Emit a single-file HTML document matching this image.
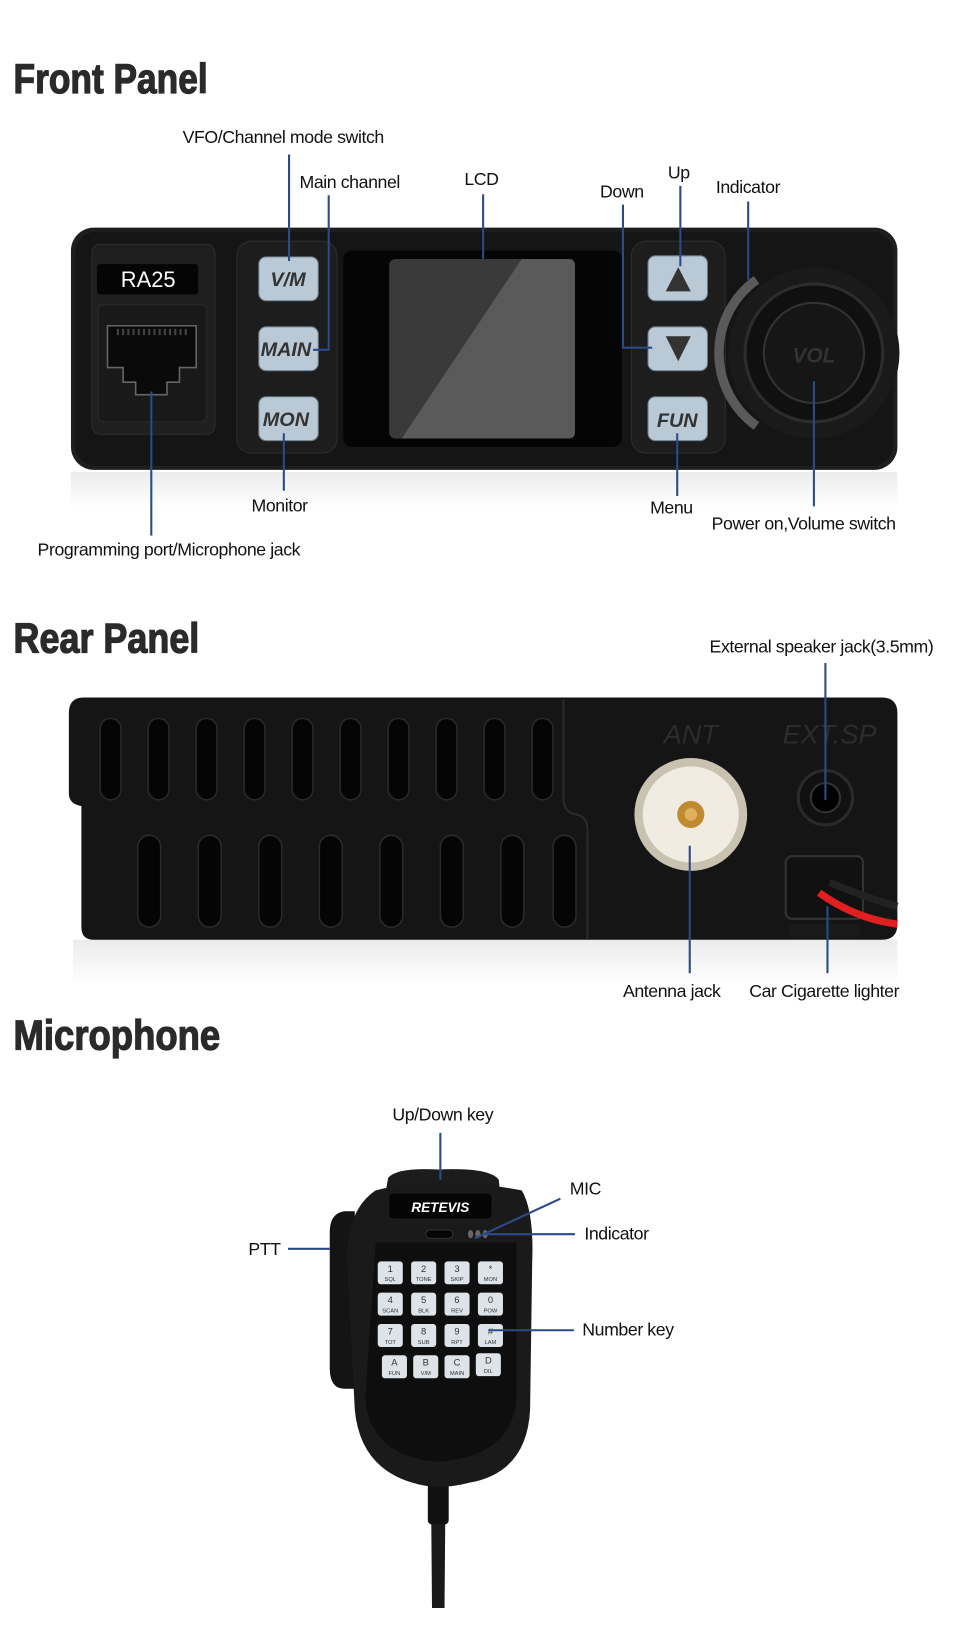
<!DOCTYPE html>
<html><head><meta charset="utf-8"><style>
html,body{margin:0;padding:0;background:#fff;width:960px;height:1632px;overflow:hidden}
svg{display:block}
.t{font-family:"Liberation Sans",sans-serif;font-size:17px;fill:#111;letter-spacing:-0.4px}
.h{font-family:"Liberation Sans Narrow","Liberation Sans",sans-serif;font-weight:bold;font-size:40px;fill:#2a2a2a;stroke:#2a2a2a;stroke-width:1.2}
.l{stroke:#2b4a86;stroke-width:2;fill:none}
.btn{fill:#b9c9d5;stroke:#6e7c86;stroke-width:1}
.bt{font-family:"Liberation Sans",sans-serif;font-weight:bold;font-style:italic;font-size:19px;fill:#333;text-anchor:middle}
.k{fill:#dde3e8}
.kt{font-family:"Liberation Sans",sans-serif;font-size:9px;fill:#333;text-anchor:middle}
.ks{font-family:"Liberation Sans",sans-serif;font-size:5.5px;fill:#333;text-anchor:middle}
</style></head><body>
<svg width="960" height="1632" viewBox="0 0 920 1563" preserveAspectRatio="none" xmlns="http://www.w3.org/2000/svg">
<defs>
<linearGradient id="rf" x1="0" y1="0" x2="0" y2="1"><stop offset="0" stop-color="#ececec"/><stop offset="1" stop-color="#ffffff"/></linearGradient>
</defs>
<text class="h" x="13" y="89" textLength="186" lengthAdjust="spacingAndGlyphs">Front Panel</text>
<text class="h" x="13" y="625" textLength="178" lengthAdjust="spacingAndGlyphs">Rear Panel</text>
<text class="h" x="13" y="1005" textLength="198" lengthAdjust="spacingAndGlyphs">Microphone</text>

<!-- FRONT PANEL -->
<rect x="68" y="452" width="792" height="34" fill="url(#rf)"/>
<rect x="68" y="218" width="792" height="232" rx="22" fill="#1e1e1e"/>
<rect x="72" y="222" width="784" height="224" rx="20" fill="#151515"/>
<rect x="88" y="234" width="118" height="182" rx="8" fill="#1f1f1f" stroke="#2c2c2c"/>
<rect x="93" y="253" width="97" height="29" rx="3" fill="#050505"/>
<text x="142" y="275" font-family="Liberation Sans,sans-serif" font-size="21" fill="#fff" text-anchor="middle">RA25</text>
<rect x="94" y="292" width="104" height="112" rx="5" fill="#191919" stroke="#2a2a2a"/>
<path d="M103 312 H188 V352 H172 V366 H160 V378 H130 V366 H118 V352 H103 Z" fill="#0a0a0a" stroke="#666" stroke-width="1.5"/>
<path d="M112 318 H180" stroke="#444" stroke-width="6" stroke-dasharray="2 3"/>
<rect x="227" y="231" width="96" height="203" rx="14" fill="#1d1d1d" stroke="#2d2d2d"/>
<rect x="248" y="246" width="57" height="42" rx="7" class="btn"/><text class="bt" x="276" y="274">V/M</text>
<rect x="248" y="313" width="57" height="42" rx="7" class="btn"/><text class="bt" x="274" y="341">MAIN</text>
<rect x="248" y="380" width="57" height="42" rx="7" class="btn"/><text class="bt" x="274" y="408">MON</text>
<rect x="329" y="240" width="267" height="188" rx="8" fill="#050505"/>
<rect x="373" y="248" width="178" height="172" rx="6" fill="#3a3a3a"/>
<path d="M500 248 H545 Q551 248 551 254 V414 Q551 420 545 420 H385 Z" fill="#5a5a5a"/>
<rect x="605" y="231" width="90" height="203" rx="14" fill="#1d1d1d" stroke="#2d2d2d"/>
<rect x="621" y="245" width="57" height="43" rx="7" class="btn"/><path d="M638 279 L650 256 L662 279 Z" fill="#333"/>
<rect x="621" y="313" width="57" height="42" rx="7" class="btn"/><path d="M638 322 L650 346 L662 322 Z" fill="#333"/>
<rect x="621" y="380" width="57" height="42" rx="7" class="btn"/><text class="bt" x="649" y="409">FUN</text>
<circle cx="780" cy="338" r="82" fill="#1a1a1a"/>
<path d="M725 268 A86 86 0 0 0 725 408" stroke="#5a5a5a" stroke-width="9" fill="none"/>
<circle cx="780" cy="338" r="66" fill="#101010" stroke="#2c2c2c" stroke-width="3"/>
<circle cx="780" cy="338" r="48" fill="#161616" stroke="#333" stroke-width="2"/>
<text x="780" y="347" font-family="Liberation Sans,sans-serif" font-weight="bold" font-style="italic" font-size="20" fill="#333" text-anchor="middle">VOL</text>

<text class="t" x="175" y="137">VFO/Channel mode switch</text>
<path class="l" d="M277 148 V250"/>
<text class="t" x="287" y="180">Main channel</text>
<path class="l" d="M315 187 V335 H300"/>
<text class="t" x="445" y="177">LCD</text>
<path class="l" d="M463 186 V248"/>
<text class="t" x="575" y="189">Down</text>
<path class="l" d="M597 196 V333 H625"/>
<text class="t" x="640" y="171">Up</text>
<path class="l" d="M652 178 V255"/>
<text class="t" x="686" y="185">Indicator</text>
<path class="l" d="M717 193 V268"/>
<text class="t" x="241" y="490">Monitor</text>
<path class="l" d="M272 415 V470"/>
<text class="t" x="623" y="492">Menu</text>
<path class="l" d="M649 415 V475"/>
<text class="t" x="682" y="507">Power on,Volume switch</text>
<path class="l" d="M780 365 V485"/>
<text class="t" x="36" y="532">Programming port/Microphone jack</text>
<path class="l" d="M145 375 V513"/>

<!-- REAR PANEL -->
<rect x="70" y="900" width="790" height="44" fill="url(#rf)"/>
<path d="M80 668 H845 Q860 668 860 683 V885 Q860 900 845 900 H90 Q78 900 78 888 V772 Q66 770 66 760 V683 Q66 668 80 668 Z" fill="#151515"/>
<path d="M540 670 V765 Q540 778 552 780 Q563 782 563 795 V900" stroke="#2a2a2a" stroke-width="2" fill="none"/>
<g fill="#050505" stroke="#2a2a2a" stroke-width="1.5">
<rect x="96" y="688" width="20" height="78" rx="10"/><rect x="142" y="688" width="20" height="78" rx="10"/><rect x="188" y="688" width="20" height="78" rx="10"/><rect x="234" y="688" width="20" height="78" rx="10"/><rect x="280" y="688" width="20" height="78" rx="10"/><rect x="326" y="688" width="20" height="78" rx="10"/><rect x="372" y="688" width="20" height="78" rx="10"/><rect x="418" y="688" width="20" height="78" rx="10"/><rect x="464" y="688" width="20" height="78" rx="10"/><rect x="510" y="688" width="20" height="78" rx="10"/>
<rect x="132" y="800" width="22" height="88" rx="11"/><rect x="190" y="800" width="22" height="88" rx="11"/><rect x="248" y="800" width="22" height="88" rx="11"/><rect x="306" y="800" width="22" height="88" rx="11"/><rect x="364" y="800" width="22" height="88" rx="11"/><rect x="422" y="800" width="22" height="88" rx="11"/><rect x="480" y="800" width="22" height="88" rx="11"/><rect x="530" y="800" width="22" height="88" rx="11"/>
</g>
<text x="662" y="712" font-family="Liberation Sans,sans-serif" font-style="italic" font-size="26" fill="#2c2c2c" text-anchor="middle">ANT</text>
<text x="795" y="712" font-family="Liberation Sans,sans-serif" font-style="italic" font-size="26" fill="#2c2c2c" text-anchor="middle">EXT.SP</text>
<circle cx="662" cy="780" r="54" fill="#c9c2b0"/>
<circle cx="662" cy="780" r="46" fill="#f0ece2"/>
<circle cx="662" cy="780" r="13" fill="#c08a30"/><circle cx="662" cy="780" r="6" fill="#e0b060"/>
<circle cx="791" cy="764" r="26" fill="#111" stroke="#2a2a2a" stroke-width="3"/>
<circle cx="791" cy="764" r="14" fill="#000" stroke="#333" stroke-width="2"/>
<rect x="753" y="820" width="74" height="60" rx="6" fill="#111" stroke="#333" stroke-width="2"/>
<path d="M785 855 Q820 880 860 885" stroke="#e02020" stroke-width="7" fill="none"/>
<path d="M795 845 Q830 860 860 868" stroke="#222" stroke-width="7" fill="none"/>
<rect x="756" y="885" width="68" height="12" fill="#1a1a1a"/>
<text class="t" x="680" y="625">External speaker jack(3.5mm)</text>
<path class="l" d="M791 635 V766"/>
<text class="t" x="597" y="955">Antenna jack</text>
<path class="l" d="M661 810 V932"/>
<text class="t" x="718" y="955">Car Cigarette lighter</text>
<path class="l" d="M793 868 V932"/>

<!-- MICROPHONE -->
<path d="M413 1420 L427 1420 L426 1540 L414 1540 Z" fill="#1a1a1a"/>
<rect x="410" y="1400" width="20" height="60" rx="4" fill="#111"/>
<path d="M372 1128 Q380 1118 420 1120 Q470 1118 478 1130 L480 1150 L368 1150 Z" fill="#1c1c1c"/>
<path d="M330 1160 Q316 1162 316 1180 V1310 Q316 1330 330 1330 L340 1330 V1160 Z" fill="#141414"/>
<path d="M360 1140 Q420 1125 500 1140 Q512 1160 510 1210 L508 1350 Q505 1410 450 1420 Q420 1428 395 1420 Q345 1405 340 1350 L333 1215 Q330 1160 360 1140 Z" fill="#1a1a1a"/>
<path d="M360 1190 H495 L495 1340 Q490 1395 420 1400 Q355 1395 350 1340 Z" fill="#0e0e0e"/>
<rect x="373" y="1143" width="98" height="24" rx="4" fill="#050505"/>
<text x="422" y="1161" font-family="Liberation Sans,sans-serif" font-weight="bold" font-style="italic" font-size="13" fill="#fff" text-anchor="middle">RETEVIS</text>
<rect x="408" y="1178" width="26" height="8" rx="4" fill="#050505" stroke="#333"/>
<g fill="#666"><ellipse cx="451" cy="1182" rx="2.5" ry="4"/><ellipse cx="458" cy="1182" rx="2.5" ry="4"/><ellipse cx="465" cy="1182" rx="2.5" ry="4"/></g>
<g>
<rect class="k" x="362" y="1208" width="24" height="22" rx="3"/><text class="kt" x="374" y="1218">1</text><text class="ks" x="374" y="1227">SQL</text>
<rect class="k" x="394" y="1208" width="24" height="22" rx="3"/><text class="kt" x="406" y="1218">2</text><text class="ks" x="406" y="1227">TONE</text>
<rect class="k" x="426" y="1208" width="24" height="22" rx="3"/><text class="kt" x="438" y="1218">3</text><text class="ks" x="438" y="1227">SKIP</text>
<rect class="k" x="458" y="1208" width="24" height="22" rx="3"/><text class="kt" x="470" y="1218">*</text><text class="ks" x="470" y="1227">MON</text>
<rect class="k" x="362" y="1238" width="24" height="22" rx="3"/><text class="kt" x="374" y="1248">4</text><text class="ks" x="374" y="1257">SCAN</text>
<rect class="k" x="394" y="1238" width="24" height="22" rx="3"/><text class="kt" x="406" y="1248">5</text><text class="ks" x="406" y="1257">BLK</text>
<rect class="k" x="426" y="1238" width="24" height="22" rx="3"/><text class="kt" x="438" y="1248">6</text><text class="ks" x="438" y="1257">REV</text>
<rect class="k" x="458" y="1238" width="24" height="22" rx="3"/><text class="kt" x="470" y="1248">0</text><text class="ks" x="470" y="1257">POW</text>
<rect class="k" x="362" y="1268" width="24" height="22" rx="3"/><text class="kt" x="374" y="1278">7</text><text class="ks" x="374" y="1287">TOT</text>
<rect class="k" x="394" y="1268" width="24" height="22" rx="3"/><text class="kt" x="406" y="1278">8</text><text class="ks" x="406" y="1287">SUB</text>
<rect class="k" x="426" y="1268" width="24" height="22" rx="3"/><text class="kt" x="438" y="1278">9</text><text class="ks" x="438" y="1287">RPT</text>
<rect class="k" x="458" y="1268" width="24" height="22" rx="3"/><text class="kt" x="470" y="1278">#</text><text class="ks" x="470" y="1287">LAM</text>
<rect class="k" x="366" y="1298" width="24" height="22" rx="3"/><text class="kt" x="378" y="1308">A</text><text class="ks" x="378" y="1317">FUN</text>
<rect class="k" x="396" y="1298" width="24" height="22" rx="3"/><text class="kt" x="408" y="1308">B</text><text class="ks" x="408" y="1317">V/M</text>
<rect class="k" x="426" y="1298" width="24" height="22" rx="3"/><text class="kt" x="438" y="1308">C</text><text class="ks" x="438" y="1317">MAIN</text>
<rect class="k" x="456" y="1296" width="24" height="22" rx="3"/><text class="kt" x="468" y="1306">D</text><text class="ks" x="468" y="1315">DIL</text>
</g>
<text class="t" x="376" y="1073">Up/Down key</text>
<path class="l" d="M422 1085 V1130"/>
<text class="t" x="546" y="1144">MIC</text>
<path class="l" d="M537 1148 L455 1186"/>
<text class="t" x="560" y="1187">Indicator</text>
<path class="l" d="M551 1182 H465"/>
<text class="t" x="238" y="1202">PTT</text>
<path class="l" d="M276 1196 H316"/>
<text class="t" x="558" y="1279">Number key</text>
<path class="l" d="M550 1274 H468"/>
</svg>
</body></html>
